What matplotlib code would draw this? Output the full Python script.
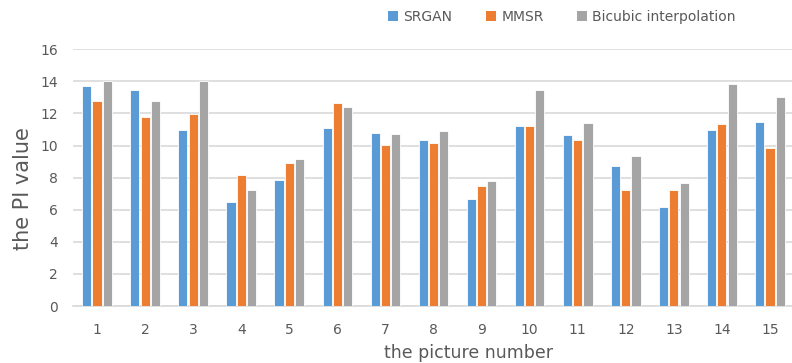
import numpy as np
import matplotlib.pyplot as plt
from matplotlib.patches import Patch

plt.rcParams['font.family'] = ['DejaVu Sans']

pictures = [str(i) for i in range(1, 16)]
srgan = [13.7, 13.45, 11.0, 6.5, 7.86, 11.08, 10.81, 10.36, 6.67, 11.21, 10.63, 8.71, 6.16, 10.96, 11.48]
mmsr = [12.8, 11.75, 11.95, 8.15, 8.92, 12.66, 10.02, 10.15, 7.49, 11.21, 10.36, 7.2, 7.2, 11.33, 9.83]
bicubic = [14.0, 12.75, 14.05, 7.25, 9.19, 12.4, 10.75, 10.9, 7.8, 13.45, 11.4, 9.38, 7.65, 13.85, 13.05]

series = [("SRGAN", srgan, "#5B9BD5"),
          ("MMSR", mmsr, "#ED7D31"),
          ("Bicubic interpolation", bicubic, "#A5A5A5")]

text_color = "#595959"

fig = plt.figure(figsize=(7.92, 3.63), dpi=100)
ax = fig.add_axes([73 / 792, 57 / 363, 721 / 792, 256.7 / 363])

x = np.arange(1, 16)
step = 0.214
for i, (name, vals, color) in enumerate(series):
    ax.bar(x + (i - 1) * step, vals, width=0.19, color=color,
           edgecolor="white", linewidth=0.6, zorder=3)

ax.set_xlim(0.5, 15.5)
ax.set_ylim(0, 16)
ax.set_yticks(range(0, 17, 2))
ax.set_xticks(x)
ax.set_xticklabels(pictures)
ax.grid(axis="y", color="#D9D9D9", linewidth=1.2, zorder=0)
for side in ["top", "right", "left"]:
    ax.spines[side].set_visible(False)
ax.spines["bottom"].set_color("#D9D9D9")
ax.spines["bottom"].set_linewidth(1.2)
ax.tick_params(length=0, labelsize=10, colors=text_color)
ax.tick_params(axis="x", pad=12)
ax.tick_params(axis="y", pad=11)

ax.set_xlabel("the picture number", fontsize=12.5, color=text_color)
ax.set_ylabel("the PI value", fontsize=15, color=text_color)
ax.xaxis.set_label_coords(395 / 721, -(353 - 306) / 256.7, transform=ax.transAxes)
ax.yaxis.set_label_coords(-(73 - 23) / 721, (306 - 189) / 256.7, transform=ax.transAxes)
ax.xaxis.label.set_va("center")
ax.yaxis.label.set_va("center")

handles = [Patch(facecolor=c, label=n) for n, _, c in series]
fig.legend(handles=handles, loc="center", bbox_to_anchor=(562 / 792, 1 - 17 / 363),
           ncol=3, frameon=False, fontsize=10, labelcolor=text_color,
           handlelength=0.7, handleheight=0.7, handletextpad=0.4, columnspacing=2.4)

fig.savefig("out.png", dpi=100)
